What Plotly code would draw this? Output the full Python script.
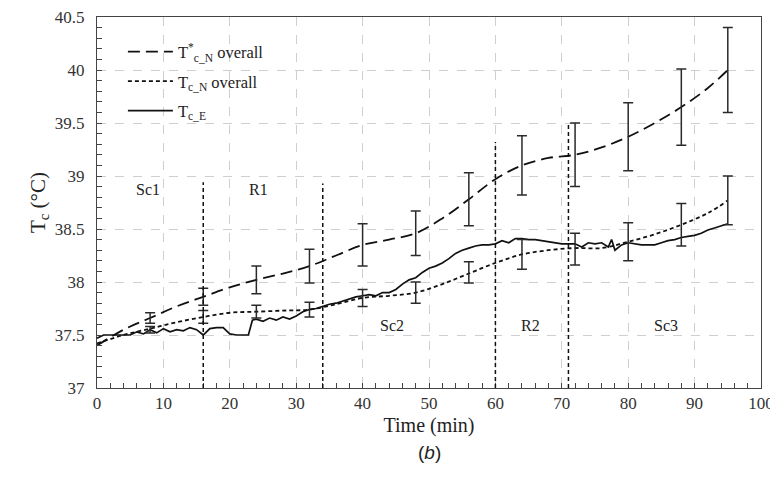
import plotly.graph_objects as go

# ---- data ----
model_time = [0, 4, 8, 12, 16, 20, 24, 28, 32, 36, 40, 44, 48, 52, 56, 60, 64, 68, 72, 76, 80, 84, 88, 92, 95]
tcn_star = [37.40, 37.55, 37.66, 37.77, 37.86, 37.95, 38.02, 38.08, 38.15, 38.25, 38.35, 38.40, 38.46,
            38.60, 38.78, 38.97, 39.10, 39.17, 39.20, 39.27, 39.37, 39.50, 39.65, 39.83, 40.00]
tcn = [37.42, 37.50, 37.56, 37.62, 37.67, 37.71, 37.72, 37.73, 37.74, 37.79, 37.85, 37.87, 37.90,
       37.98, 38.08, 38.18, 38.26, 38.30, 38.32, 38.32, 38.38, 38.45, 38.54, 38.65, 38.77]

err_time = [8, 16, 24, 32, 40, 48, 56, 64, 72, 80, 88, 95]
tcn_star_err_center = [37.66, 37.86, 38.02, 38.15, 38.35, 38.46, 38.78, 39.10, 39.20, 39.37, 39.65, 40.00]
tcn_star_err = [0.05, 0.08, 0.13, 0.16, 0.20, 0.21, 0.25, 0.28, 0.30, 0.32, 0.36, 0.40]
tcn_err_center = [37.55, 37.67, 37.72, 37.74, 37.85, 37.90, 38.09, 38.26, 38.31, 38.38, 38.54, 38.77]
tcn_err = [0.03, 0.06, 0.06, 0.07, 0.08, 0.10, 0.10, 0.14, 0.15, 0.18, 0.20, 0.23]

meas_time = [0, 1, 2, 3, 4, 5, 6, 7, 8, 9, 10, 11, 12, 13, 14, 15, 16, 17, 18, 19, 20, 21, 22, 22.8, 23.4,
             24, 25, 26, 27, 28, 29, 30, 31, 32, 33, 34, 35, 36, 37, 38, 39, 40, 41, 42, 43, 44, 45, 46, 47,
             48, 49, 50, 51, 52, 53, 54, 55, 56, 57, 58, 59, 60, 61, 62, 63, 64, 65, 66, 67, 68, 69, 70, 71,
             72, 73, 74, 75, 76, 77, 77.5, 78, 79, 80, 81, 82, 83, 84, 85, 86, 87, 88, 89, 90, 91, 92, 93, 94, 95]
tce = [37.47, 37.50, 37.50, 37.50, 37.50, 37.50, 37.53, 37.51, 37.55, 37.52, 37.56, 37.53, 37.55, 37.54,
       37.57, 37.55, 37.50, 37.56, 37.57, 37.57, 37.51, 37.50, 37.50, 37.50, 37.64,
       37.65, 37.63, 37.66, 37.64, 37.67, 37.65, 37.68, 37.72, 37.74, 37.75, 37.77, 37.79, 37.80, 37.82,
       37.84, 37.86, 37.87, 37.88, 37.87, 37.90, 37.90, 37.93, 37.98, 38.02,
       38.04, 38.09, 38.13, 38.15, 38.18, 38.22, 38.27, 38.30, 38.32, 38.34, 38.35, 38.35, 38.36, 38.39,
       38.37, 38.41, 38.41, 38.40, 38.40, 38.39, 38.38, 38.37, 38.36, 38.36,
       38.36, 38.33, 38.37, 38.36, 38.37, 38.33, 38.40, 38.30, 38.35, 38.37, 38.36, 38.35, 38.35, 38.35,
       38.37, 38.39, 38.40, 38.42, 38.43, 38.44, 38.46, 38.49, 38.51, 38.53, 38.55]

phase_bounds = [16, 34, 60, 71]
phase_tops = [38.94, 38.93, 39.32, 39.50]
phase_names = ["Sc1", "R1", "Sc2", "R2", "Sc3"]
phase_label_x = [7.7, 24.3, 44.5, 65.3, 85.7]
phase_label_y = [38.87, 38.87, 37.59, 37.59, 37.59]

x_ticks = list(range(0, 101, 10))
y_ticks = [37, 37.5, 38, 38.5, 39, 39.5, 40, 40.5]
y_tick_text = ["37", "37.5", "38", "38.5", "39", "39.5", "40", "40.5"]

SERIF = "Liberation Serif, Times New Roman, serif"
INK = "#111111"

fig = go.Figure()

fig.add_trace(go.Scatter(
    x=model_time, y=tcn_star, mode="lines", line_shape="spline",
    line=dict(color=INK, width=1.8, dash="12px,6px"),
    name="T<sup>*</sup><sub>c_N</sub> overall", legendgroup="a"))
fig.add_trace(go.Scatter(
    x=model_time, y=tcn, mode="lines", line_shape="spline",
    line=dict(color=INK, width=1.8, dash="4px,3px"),
    name="T<sub>c_N</sub> overall", legendgroup="b"))
fig.add_trace(go.Scatter(
    x=meas_time, y=tce, mode="lines",
    line=dict(color=INK, width=1.7),
    name="T<sub>c_E</sub>", legendgroup="c"))

for cen, err in [(tcn_star_err_center, tcn_star_err), (tcn_err_center, tcn_err)]:
    fig.add_trace(go.Scatter(
        x=err_time, y=cen, mode="markers",
        marker=dict(size=2, color="rgba(0,0,0,0)"),
        error_y=dict(type="data", array=err, visible=True, color="#2a2a2a", thickness=1.5, width=5),
        showlegend=False, hoverinfo="skip"))

for xb, top in zip(phase_bounds, phase_tops):
    fig.add_shape(type="line", xref="x", yref="y", x0=xb, x1=xb, y0=37, y1=top,
                  line=dict(color=INK, width=1.5, dash="4px,3px"))

for name, px, py in zip(phase_names, phase_label_x, phase_label_y):
    fig.add_annotation(x=px, y=py, text=name, showarrow=False, xref="x", yref="y",
                       font=dict(family=SERIF, size=16, color="#222"))

fig.add_annotation(x=0.5, y=-0.175, xref="paper", yref="paper", text="(<i>b</i>)", showarrow=False,
                   yanchor="middle", font=dict(family="Liberation Sans", size=19, color="#222"))

# the page body adds an 8px offset, so the figure is sized to fill the rest of the window
fig.update_layout(
    width=770, height=486,
    margin=dict(l=89, r=17, t=9, b=106),
    paper_bgcolor="white", plot_bgcolor="white",
    font=dict(family=SERIF, color="#222"),
    showlegend=True,
    legend=dict(x=0.039, y=0.953, xanchor="left", yanchor="top",
                bgcolor="rgba(0,0,0,0)", font=dict(family=SERIF, size=16.5, color="#222"),
                tracegroupgap=5, itemwidth=45),
    xaxis=dict(range=[0, 100], tickmode="array", tickvals=x_ticks, automargin=False,
               ticks="inside", ticklen=5, tickcolor="#444",
               minor=dict(ticks="inside", dtick=2, ticklen=5, tickcolor="#444", showgrid=False),
               showgrid=True, gridcolor="#cfcfcf", griddash="dash", gridwidth=1,
               showline=True, linecolor="#444", linewidth=1.3, mirror=True, zeroline=False,
               ticklabelstandoff=-1, ticklabeloverflow="allow",
               tickfont=dict(family=SERIF, size=17, color="#333"),
               title=dict(text="Time (min)", font=dict(family=SERIF, size=20, color="#222"), standoff=6)),
    yaxis=dict(range=[37, 40.5], tickmode="array", tickvals=y_ticks, ticktext=y_tick_text, automargin=False,
               ticks="inside", ticklen=5, tickcolor="#444",
               minor=dict(ticks="inside", dtick=0.1, ticklen=5, tickcolor="#444", showgrid=False),
               showgrid=True, gridcolor="#cfcfcf", griddash="dash", gridwidth=1,
               showline=True, linecolor="#444", linewidth=1.3, mirror=True, zeroline=False,
               ticklabelstandoff=8, ticklabeloverflow="allow",
               tickfont=dict(family=SERIF, size=17, color="#333"),
               title=dict(text="T<sub>c</sub> (°C)", font=dict(family=SERIF, size=21, color="#222"), standoff=3)),
)

fig.write_html("out.html")
